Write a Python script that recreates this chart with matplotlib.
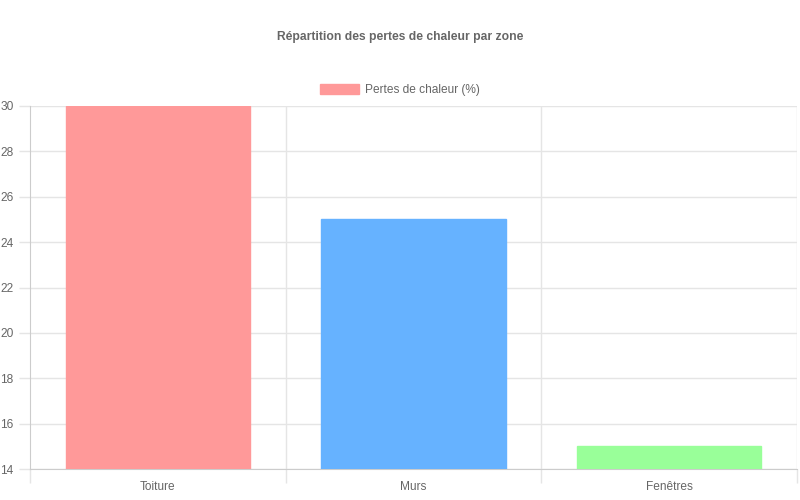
import matplotlib
matplotlib.use("Agg")
import matplotlib.pyplot as plt
from matplotlib.patches import Patch

categories = ["Toiture", "Murs", "Fenêtres"]
values = [30, 25, 15]
colors = ["#FF9999", "#66B2FF", "#99FF99"]
series_label = "Pertes de chaleur (%)"
title = "Répartition des pertes de chaleur par zone"
yticks = list(range(14, 31, 2))

plt.rcParams['font.family'] = ['Liberation Sans', 'DejaVu Sans']
fig = plt.figure(figsize=(8, 5), dpi=100)
ax = fig.add_axes([30/800, 31/500, 767/800, 363/500])

x = list(range(len(categories)))
ax.bar(x, values, width=0.72, color=colors, edgecolor=colors, linewidth=1, zorder=3)
ax.set_xlim(-0.5, len(categories) - 0.5)
ax.set_ylim(14, 30)
ax.set_yticks(yticks)
ax.set_xticks(x)
ax.set_xticklabels(categories)

grid_c = "#e5e5e5"
ax.yaxis.grid(True, color=grid_c, linewidth=1, zorder=0)
for b in [0.5, 1.5, 2.5]:
    ax.axvline(b, color=grid_c, linewidth=1, zorder=0)
ax.set_xticks([-0.5, 0.5, 1.5, 2.5], minor=True)
ax.tick_params(axis='x', which='minor', length=10, color=grid_c, width=1)
ax.tick_params(axis='x', which='major', length=0, labelsize=8.6, labelcolor="#666666", pad=9)
ax.tick_params(axis='y', length=8, color=grid_c, width=1, labelsize=8.6, labelcolor="#666666", pad=4)

for s in ["top", "right"]:
    ax.spines[s].set_visible(False)
ax.spines["left"].set_color("#cccccc")
ax.spines["bottom"].set_color("#cccccc")

fig.text(0.5, 1 - 37/500, title, ha='center', va='center', fontsize=8.7, fontweight='bold', color="#666666")
fig.legend(handles=[Patch(facecolor=colors[0], edgecolor=colors[0], label=series_label)],
           loc='center', bbox_to_anchor=(0.5, 1 - 90/500), frameon=False,
           fontsize=8.6, labelcolor="#666666", handlelength=3.3, handleheight=1.0, handletextpad=0.5)

fig.savefig("out.png", dpi=100)
